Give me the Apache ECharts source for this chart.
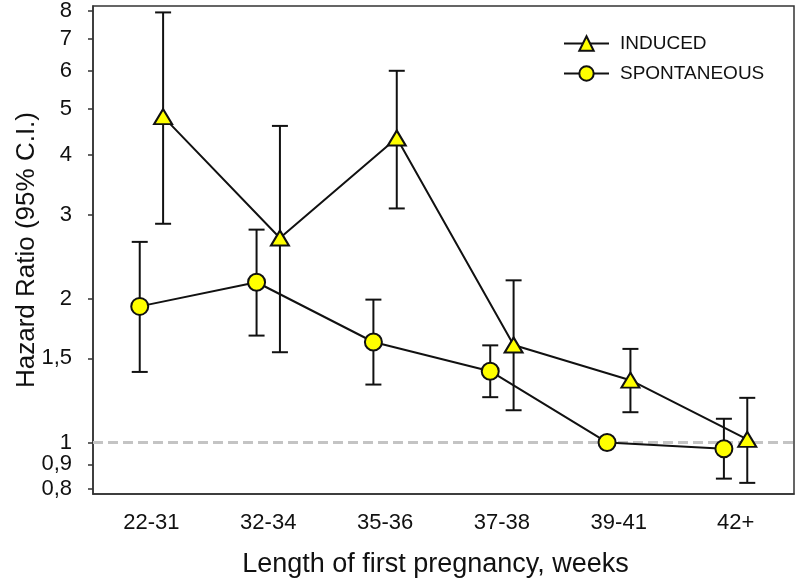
<!DOCTYPE html>
<html>
<head>
<meta charset="utf-8">
<script src="https://cdn.jsdelivr.net/npm/echarts@6/dist/echarts.min.js"></script>
<style>
  html, body { margin: 0; padding: 0; background: #fff; }
  #chart { width: 800px; height: 579px; }
</style>
</head>
<body>
<div id="chart"></div>
<script>
// categories
var weeks = ['22-31', '32-34', '35-36', '37-38', '39-41', '42+'];
var yTicks = [0.8, 0.9, 1, 1.5, 2, 3, 4, 5, 6, 7, 8];

// induced
var inducedHR = [4.81, 2.68, 4.34, 1.60, 1.35, 1.015];
var inducedLow = [2.87, 1.545, 3.09, 1.168, 1.157, 0.823];
var inducedHigh = [7.95, 4.60, 6.0, 2.185, 1.57, 1.24];

// spontaneous
var spontHR = [1.927, 2.165, 1.623, 1.41, 1.0, 0.97];
var spontLow = [1.405, 1.674, 1.322, 1.244, null, 0.84];
var spontHigh = [2.63, 2.79, 1.991, 1.597, null, 1.121];

var FONT = 'Liberation Sans, Arial, sans-serif';

function pts(vals, shift) {
    var out = [];
    vals.forEach(function (v, i) {
        out.push([i + 1 + shift, v]);
    });
    return out;
}

function bars(lo, hi, shift) {
    var out = [];
    lo.forEach(function (v, i) {
        if (v != null && hi[i] != null) {
            out.push([i + 1 + shift, v, hi[i]]);
        }
    });
    return out;
}

// error bar with caps
function renderErr(params, api) {
    var x = api.value(0);
    var a = api.coord([x, api.value(1)]);
    var b = api.coord([x, api.value(2)]);
    var w = 8;
    var st = { stroke: '#111', lineWidth: 2 };
    return {
        type: 'group',
        children: [
            { type: 'line', shape: { x1: a[0], y1: a[1], x2: b[0], y2: b[1] }, style: st },
            { type: 'line', shape: { x1: a[0] - w, y1: a[1], x2: a[0] + w, y2: a[1] }, style: st },
            { type: 'line', shape: { x1: b[0] - w, y1: b[1], x2: b[0] + w, y2: b[1] }, style: st }
        ]
    };
}

var myChart = echarts.init(document.getElementById('chart'));
var option = {
    animation: false,
    textStyle: { fontFamily: FONT },
    grid: {
        left: 93, right: 6, top: 6, bottom: 85,
        outerBoundsMode: 'none',
        show: true,
        borderColor: '#333',
        borderWidth: 1.5
    },
    legend: {
        left: 558,
        top: 29,
        orient: 'vertical',
        itemWidth: 45,
        itemHeight: 18,
        itemGap: 11,
        textStyle: { fontSize: 19, color: '#111', fontFamily: FONT, padding: [0, 0, 0, 6] },
        data: ['INDUCED', 'SPONTANEOUS']
    },
    xAxis: [
        {
            type: 'category',
            data: weeks,
            boundaryGap: true,
            name: 'Length of first pregnancy, weeks',
            nameLocation: 'middle',
            nameGap: 57,
            nameMoveOverlap: false,
            nameTextStyle: { fontSize: 27, color: '#111', fontFamily: FONT, padding: [0, 16, 0, 0] },
            axisLine: { lineStyle: { color: '#333', width: 1.5 } },
            axisTick: { alignWithLabel: true, length: 6, lineStyle: { color: '#333', width: 1.5 } },
            axisLabel: { fontSize: 22, color: '#111', margin: 18, fontFamily: FONT },
            splitLine: { show: false }
        },
        {
            type: 'value',
            min: 0.5,
            max: 6.5,
            show: false
        }
    ],
    yAxis: {
        type: 'log',
        logBase: 10,
        min: 0.78,
        max: 8.2,
        name: 'Hazard Ratio (95% C.I.)',
        nameLocation: 'middle',
        nameGap: 53,
        nameMoveOverlap: false,
        nameTextStyle: { fontSize: 26, color: '#111', fontFamily: FONT },
        axisLine: { show: true, lineStyle: { color: '#333', width: 1.5 } },
        axisTick: { show: true, length: 5, customValues: yTicks, lineStyle: { color: '#333', width: 1.5 } },
        axisLabel: {
            fontSize: 22,
            color: '#111',
            margin: 21,
            fontFamily: FONT,
            customValues: yTicks,
            formatter: function (v) {
                return String(Math.round(v * 10) / 10).replace('.', ',');
            }
        },
        splitLine: { show: false },
        minorTick: { show: false }
    },
    series: [
        {
            name: 'ref',
            type: 'line',
            xAxisIndex: 1,
            data: [],
            markLine: {
                silent: true,
                symbol: 'none',
                label: { show: false },
                lineStyle: { color: '#c4c4c4', width: 3, type: [10, 5] },
                data: [{ yAxis: 1 }]
            },
            z: 1
        },
        {
            name: 'errInduced',
            type: 'custom',
            xAxisIndex: 1,
            renderItem: renderErr,
            encode: { x: 0, y: [1, 2] },
            data: bars(inducedLow, inducedHigh, 0.1),
            z: 2
        },
        {
            name: 'errSpont',
            type: 'custom',
            xAxisIndex: 1,
            renderItem: renderErr,
            encode: { x: 0, y: [1, 2] },
            data: bars(spontLow, spontHigh, -0.1),
            z: 2
        },
        {
            name: 'INDUCED',
            type: 'line',
            xAxisIndex: 1,
            data: pts(inducedHR, 0.1),
            symbol: 'triangle',
            symbolSize: [18, 15],
            lineStyle: { color: '#111', width: 2 },
            itemStyle: { color: '#ffff00', borderColor: '#111', borderWidth: 2 },
            z: 5
        },
        {
            name: 'SPONTANEOUS',
            type: 'line',
            xAxisIndex: 1,
            data: pts(spontHR, -0.1),
            symbol: 'circle',
            symbolSize: 17,
            lineStyle: { color: '#111', width: 2 },
            itemStyle: { color: '#ffff00', borderColor: '#111', borderWidth: 2 },
            z: 5
        }
    ]
};
myChart.setOption(option);
</script>
</body>
</html>
